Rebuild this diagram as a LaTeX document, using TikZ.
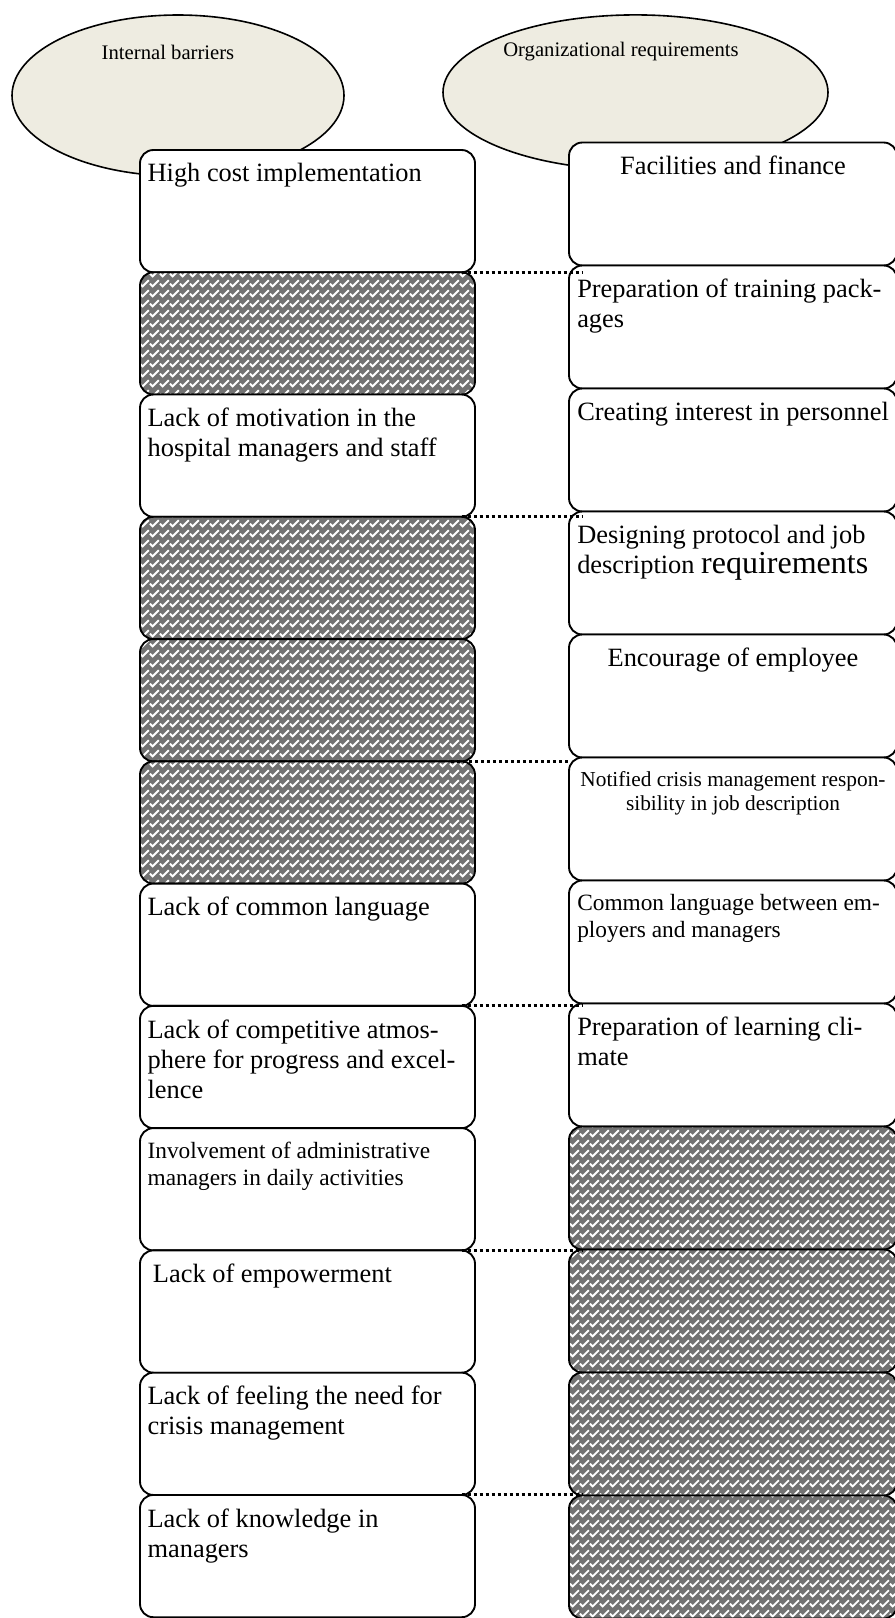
\documentclass[tikz,border=0pt]{standalone}
\usepackage{fontspec}
\setmainfont{Liberation Serif}
\usetikzlibrary{shapes.geometric, positioning, patterns}

\definecolor{tanfill}{RGB}{238,236,225}
% weave fill for the empty cells
\pgfdeclarepatternformonly{weave}{\pgfqpoint{-2pt}{-2pt}}{\pgfqpoint{9.5pt}{9.5pt}}{\pgfqpoint{7.5pt}{7.5pt}}{%
	\pgfsetlinewidth{1.4pt}
	\pgfpathmoveto{\pgfqpoint{0pt}{3.2pt}}
	\pgfpathlineto{\pgfqpoint{2pt}{1.2pt}}
	\pgfpathlineto{\pgfqpoint{6.6pt}{5.8pt}}
	\pgfusepath{stroke}}

\newcommand{\bigtxt}{\fontsize{19.8pt}{22.5pt}\selectfont}
\newcommand{\midtxt}{\fontsize{17.5pt}{20.5pt}\selectfont}
\newcommand{\smalltxt}{\fontsize{16pt}{18.5pt}\selectfont}
\newcommand{\ovaltxt}{\fontsize{15.5pt}{18pt}\selectfont}

\tikzset{
	oval/.style={ellipse, draw=black, line width=1.2pt, fill=tanfill, inner sep=0pt},
	ovaltext/.style={inner sep=0pt, font=\ovaltxt},
	cell/.style={rectangle, rounded corners=10pt, draw=black, line width=1.4pt, outer sep=0pt, inner sep=0pt},
	lcell/.style={cell, minimum width=251.25pt, minimum height=91.7pt},
	rcell/.style={cell, minimum width=246pt, minimum height=92.25pt},
	plain/.style={fill=white},
	hatch/.style={preaction={fill=black!55}, pattern=weave, pattern color=white},
	ltext/.style={anchor=north west, inner sep=0pt, align=left, xshift=5.5pt, yshift=-10pt, font=\bigtxt},
	ctext/.style={anchor=north, inner sep=0pt, align=center, yshift=-10pt, font=\bigtxt},
	dotline/.style={line width=2.2pt, dash pattern=on 2.2pt off 2.3pt, shorten <=-10pt, shorten >=-10pt}
}

\begin{document}
\begin{tikzpicture}[x=0.75pt, y=-0.75pt]
	\useasboundingbox (0,0) rectangle (894,1618);

	% headings
	\node[oval, minimum width=249pt, minimum height=120.75pt] (obarrier) at (178,95.5) {};
	\node[ovaltext] (tbarrier) at (168,52) {Internal barriers};
	\node[oval, minimum width=288.75pt, minimum height=116.25pt] (orequire) at (635.5,92.4) {};
	\node[ovaltext] (trequire) at (621,51.5) {Organizational requirements};

	% barriers column
	\node[lcell, plain, anchor=north west] (l1) at (140,150) {};
	\node[lcell, hatch, below=0pt of l1] (l2) {};
	\node[lcell, plain, below=0pt of l2] (l3) {};
	\node[lcell, hatch, below=0pt of l3] (l4) {};
	\node[lcell, hatch, below=0pt of l4] (l5) {};
	\node[lcell, hatch, below=0pt of l5] (l6) {};
	\node[lcell, plain, below=0pt of l6] (l7) {};
	\node[lcell, plain, below=0pt of l7] (l8) {};
	\node[lcell, plain, below=0pt of l8] (l9) {};
	\node[lcell, plain, below=0pt of l9] (l10) {};
	\node[lcell, plain, below=0pt of l10] (l11) {};
	\node[lcell, plain, below=0pt of l11] (l12) {};

	\node[ltext] (tl1) at (l1.north west) {High cost implementation};
	\node[ltext] (tl3) at (l3.north west) {Lack of motivation in the\\hospital managers and staff};
	\node[ltext] (tl7) at (l7.north west) {Lack of common language};
	\node[ltext] (tl8) at (l8.north west) {Lack of competitive atmos-\\phere for progress and excel-\\lence};
	\node[ltext, font=\midtxt] (tl9) at (l9.north west) {Involvement of administrative\\managers in daily activities};
	\node[ltext] (tl10) at (l10.north west) {\hspace*{4pt}Lack of empowerment};
	\node[ltext] (tl11) at (l11.north west) {Lack of feeling the need for\\crisis management};
	\node[ltext] (tl12) at (l12.north west) {Lack of knowledge in\\managers};

	% requirements column
	\node[rcell, plain, anchor=north west] (r1) at (569,142.5) {};
	\node[rcell, plain, below=0pt of r1] (r2) {};
	\node[rcell, plain, below=0pt of r2] (r3) {};
	\node[rcell, plain, below=0pt of r3] (r4) {};
	\node[rcell, plain, below=0pt of r4] (r5) {};
	\node[rcell, plain, below=0pt of r5] (r6) {};
	\node[rcell, plain, below=0pt of r6] (r7) {};
	\node[rcell, plain, below=0pt of r7] (r8) {};
	\node[rcell, hatch, below=0pt of r8] (r9) {};
	\node[rcell, hatch, below=0pt of r9] (r10) {};
	\node[rcell, hatch, below=0pt of r10] (r11) {};
	\node[rcell, hatch, below=0pt of r11] (r12) {};

	\node[ctext] (tr1) at (r1.north) {Facilities and finance};
	\node[ltext, xshift=0.5pt] (tr2) at (r2.north west) {Preparation of training pack-\\ages};
	\node[ltext, xshift=0.5pt] (tr3) at (r3.north west) {Creating interest in personnel};
	\node[ltext, xshift=0.5pt] (tr4) at (r4.north west) {Designing protocol and job\\description {\fontsize{24pt}{24pt}\selectfont requirements}};
	\node[ctext] (tr5) at (r5.north) {Encourage of employee};
	\node[ctext, font=\smalltxt] (tr6) at (r6.north) {Notified crisis management respon-\\sibility in job description};
	\node[ltext, xshift=0.5pt, font=\midtxt] (tr7) at (r7.north west) {Common language between em-\\ployers and managers};
	\node[ltext, xshift=0.5pt] (tr8) at (r8.north west) {Preparation of learning cli-\\mate};

	% dotted links
	\draw[dotline] (l1.south east) -- (l1.south east -| r1.west);
	\draw[dotline] (l3.south east) -- (l3.south east -| r3.west);
	\draw[dotline, shorten <=-18pt, shorten >=0pt] (l5.south east) -- (l5.south east -| r5.west);
	\draw[dotline] (l7.south east) -- (l7.south east -| r7.west);
	\draw[dotline] (l9.south east) -- (l9.south east -| r9.west);
	\draw[dotline] (l11.south east) -- (l11.south east -| r11.west);
\end{tikzpicture}
\end{document}
